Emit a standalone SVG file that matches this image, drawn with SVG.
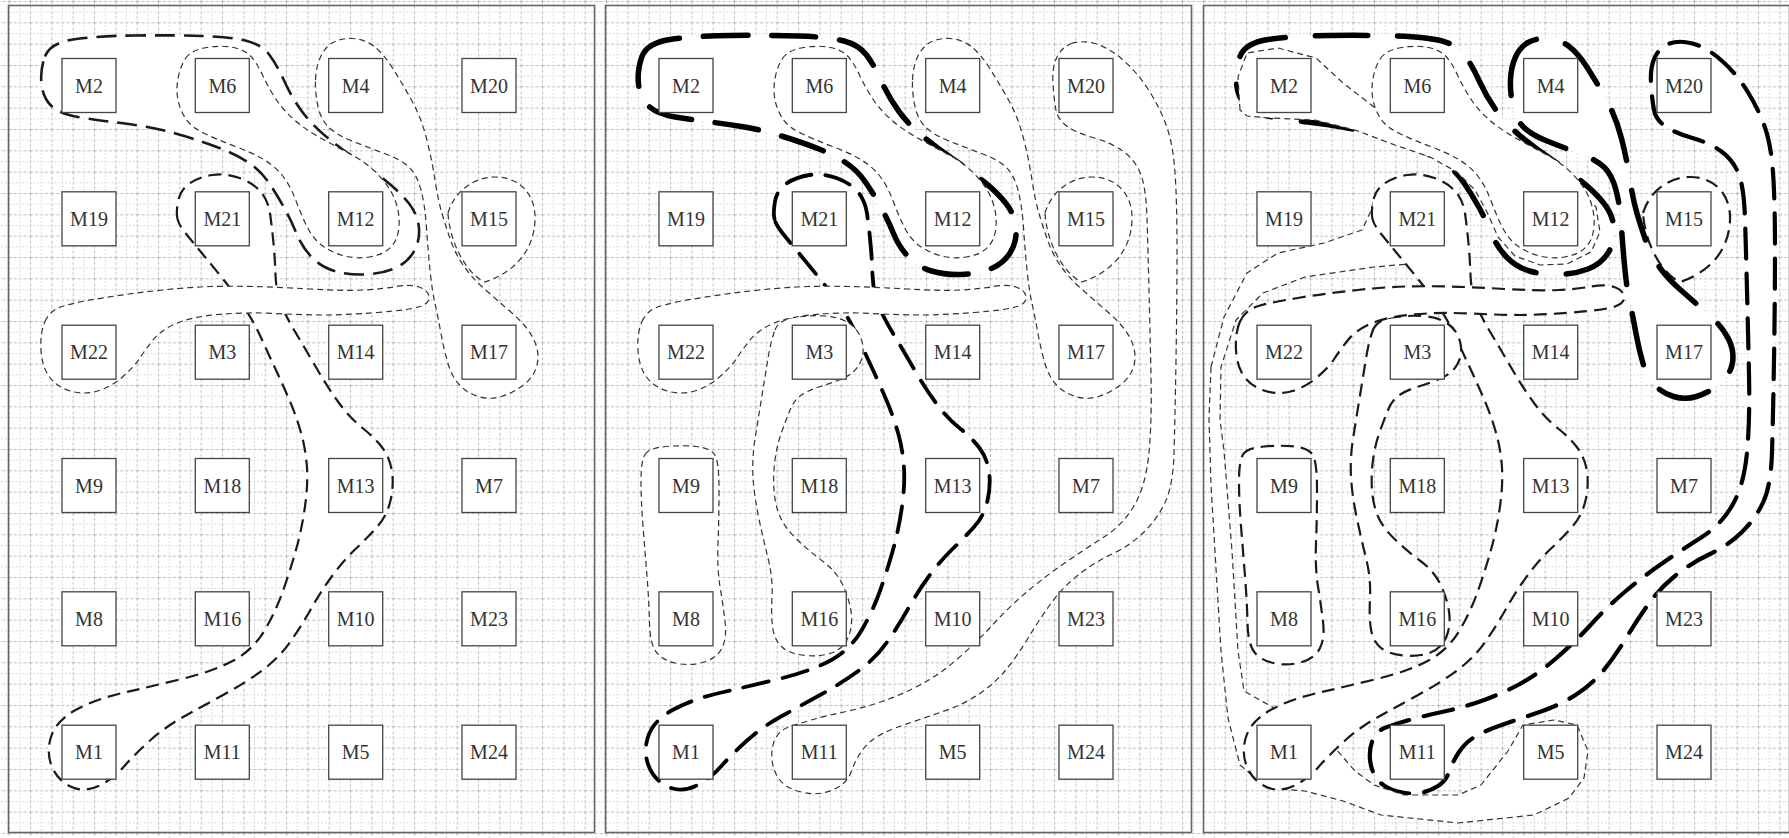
<svg xmlns="http://www.w3.org/2000/svg" xmlns:xlink="http://www.w3.org/1999/xlink" width="1789" height="838" viewBox="0 0 1789 838">
<style>
.node rect{fill:#fff;stroke:#444;stroke-width:1.3}
.node text{font-family:"Liberation Serif","Times New Roman",serif;font-size:20px;fill:#333;text-anchor:middle}
.frame{fill:none;stroke:#666;stroke-width:1.6}
.he{fill:#fff;stroke:#1a1a1a;stroke-linejoin:round}
.thin{stroke:#333;stroke-width:1.2;stroke-dasharray:6 4}
.p1a{stroke-width:2.6;stroke-dasharray:20 9}
.med{stroke-width:2.2;stroke-dasharray:13 7}
.thick{stroke:#000;stroke-width:3.8;stroke-dasharray:26 14;stroke-linecap:round}
.heavy2{stroke:#000;stroke-width:5.5;stroke-dasharray:44 24;stroke-linecap:round}
.heavy{stroke:#000;stroke-width:5.5;stroke-dasharray:52 30;stroke-linecap:round}
.f3{stroke:#000;stroke-width:4.2;stroke-dasharray:30 15;stroke-linecap:round}
</style>
<defs>
<pattern id="grid" width="21.333" height="21.333" x="8.7" y="1" patternUnits="userSpaceOnUse">
<path d="M0,0.5H21.333M0.5,0V21.333" fill="none" stroke="#bcbcbc" stroke-width="1" stroke-dasharray="3 2"/>
<path d="M0,11.17H21.333M11.17,0V21.333" fill="none" stroke="#cfcfcf" stroke-width="1" stroke-dasharray="1.5 2"/>
</pattern>
<path id="hA" d="M45,56.5 Q50,43 73,39.5 Q96,36 134,35.5 Q172,35 202,36 Q232,37 247,41 Q262,45 269.5,55 Q277,65 284.5,81.5 Q292,98 302,111.5 Q312,125 326,136.5 Q340,148 356,159 Q372,170 386,181 Q400,192 409,203.5 Q418,215 419,228.5 Q420,242 413,253 Q406,264 393,269 Q380,274 364,274.5 Q348,275 334.5,271 Q321,267 311.5,257 Q302,247 296.5,233.5 Q291,220 283.5,206.5 Q276,193 268,181.5 Q260,170 248.5,162.5 Q237,155 222,149 Q207,143 186,136.5 Q165,130 147.5,127 Q130,124 113,122 Q96,120 78,117 Q60,114 51.5,106 Q43,98 41.5,84 Q40,70 45,56.5 Z"/>
<path id="hB" d="M185.5,58.5 Q191,50 206.5,47.5 Q222,45 233.5,47.5 Q245,50 251,56.5 Q257,63 262.5,75 Q268,87 275.5,98.5 Q283,110 294.5,120 Q306,130 321.5,138.5 Q337,147 352,155 Q367,163 378.5,175 Q390,187 395,200 Q400,213 399,226.5 Q398,240 390.5,247.5 Q383,255 369.5,257 Q356,259 344.5,256 Q333,253 323.5,246.5 Q314,240 308,228.5 Q302,217 296.5,202 Q291,187 283.5,177 Q276,167 264.5,160 Q253,153 235.5,146.5 Q218,140 204.5,133.5 Q191,127 185.5,118.5 Q180,110 178,100 Q176,90 178,78.5 Q180,67 185.5,58.5 Z"/>
<path id="hC" d="M177.5,219 Q176,213 178,201.5 Q180,190 189.5,183.5 Q199,177 212.5,175 Q226,173 239.5,178 Q253,183 260.5,191.5 Q268,200 270,213.5 Q272,227 273.5,243.5 Q275,260 275.5,275 Q276,290 280.5,302.5 Q285,315 295.5,332.5 Q306,350 317,369 Q328,388 339,403 Q350,418 362.5,428 Q375,438 382.5,448 Q390,458 392,471.5 Q394,485 390.5,500.5 Q387,516 377,527 Q367,538 355.5,549 Q344,560 332.5,575.5 Q321,591 311.5,608 Q302,625 290.5,641.5 Q279,658 262,670.5 Q245,683 224,694.5 Q203,706 184,716.5 Q165,727 149.5,741 Q134,755 123.5,767 Q113,779 98.5,786 Q84,793 70.5,786.5 Q57,780 51.5,765.5 Q46,751 51.5,735.5 Q57,720 76.5,709.5 Q96,699 124.5,692.5 Q153,686 183.5,678.5 Q214,671 233.5,660.5 Q253,650 264.5,630.5 Q276,611 283.5,589.5 Q291,568 296.5,548 Q302,528 305,506.5 Q308,485 307,468 Q306,451 301.5,434.5 Q297,418 290,401.5 Q283,385 275.5,369 Q268,353 260.5,336.5 Q253,320 242.5,305 Q232,290 221,276.5 Q210,263 200.5,251.5 Q191,240 185,232.5 Q179,225 177.5,219 Z"/>
<path id="hD1" d="M45,321.5 Q50,310 63.5,306 Q77,302 105.5,297.5 Q134,293 162.5,290 Q191,287 210.5,286.5 Q230,286 253,286.5 Q276,287 310,289 Q344,291 363.5,290 Q383,289 396.5,286.5 Q410,284 419,287 Q428,290 429,296.5 Q430,303 420,306.5 Q410,310 377,312.5 Q344,315 325,315 Q306,315 275.5,313.5 Q245,312 218,314.5 Q191,317 176,323.5 Q161,330 153,340 Q145,350 139.5,358.5 Q134,367 122.5,377 Q111,387 97.5,391 Q84,395 70.5,391 Q57,387 49.5,377 Q42,367 41,350 Q40,333 45,321.5 Z"/>
<path id="hD2" d="M315.5,80 Q316,67 320.5,57 Q325,47 333,42.5 Q341,38 352.5,38.5 Q364,39 373.5,46 Q383,53 392.5,68 Q402,83 411.5,100 Q421,117 426.5,138.5 Q432,160 435,180 Q438,200 442,213.5 Q446,227 450.5,240 Q455,253 463,265 Q471,277 484,288.5 Q497,300 512.5,313.5 Q528,327 534,340 Q540,353 537,365 Q534,377 523.5,385 Q513,393 501.5,396.5 Q490,400 478.5,396.5 Q467,393 459.5,385 Q452,377 448,363.5 Q444,350 441,333.5 Q438,317 435,303.5 Q432,290 430,270 Q428,250 426.5,227.5 Q425,205 421,190 Q417,175 409.5,167.5 Q402,160 384.5,153.5 Q367,147 352,141 Q337,135 329,127.5 Q321,120 318,106.5 Q315,93 315.5,80 Z"/>
<path id="hM15" d="M448,213 C455,190 475,177 495,177 C520,177 536,195 535,220 C534,250 515,272 485,282 C468,275 450,245 448,213 Z"/>
<path id="hE" d="M178,330 Q182,320 197,317.5 Q212,315 227.5,316 Q243,317 252.5,323.5 Q262,330 265,341.5 Q268,353 263,363 Q258,373 246.5,378 Q235,383 223.5,386.5 Q212,390 204.5,395 Q197,400 193,410 Q189,420 184.5,432.5 Q180,445 178,460 Q176,475 177,490 Q178,505 183,516.5 Q188,528 200,539.5 Q212,551 225.5,561 Q239,571 245.5,584.5 Q252,598 254,611.5 Q256,625 251.5,636.5 Q247,648 235.5,652.5 Q224,657 208.5,655.5 Q193,654 185.5,647.5 Q178,641 176,629.5 Q174,618 175,598 Q176,578 171,558 Q166,538 161.5,516.5 Q157,495 156,476.5 Q155,458 158,439 Q161,420 164.5,398.5 Q168,377 171,358.5 Q174,340 178,330 Z"/>
<path id="hK" d="M48,454.5 Q52,448 69,446.5 Q86,445 99.5,446.5 Q113,448 117.5,454.5 Q122,461 122,489.5 Q122,518 121,543 Q120,568 123,586.5 Q126,605 128,621.5 Q130,638 125,648 Q120,658 107,662 Q94,666 80.5,663.5 Q67,661 60,653 Q53,645 52.5,623 Q52,601 50,576 Q48,551 46,526 Q44,501 44,481 Q44,461 48,454.5 Z"/>
<path id="hF" d="M474.5,43.5 Q484,40 497.5,43.5 Q511,47 526,60 Q541,73 552.5,91.5 Q564,110 570,127.5 Q576,145 578,172.5 Q580,200 580,250 Q580,300 579,360 Q578,420 577,452.5 Q576,485 568.5,501.5 Q561,518 547.5,531.5 Q534,545 515,554 Q496,563 480.5,575.5 Q465,588 453.5,604 Q442,620 430.5,639 Q419,658 407.5,671.5 Q396,685 380.5,695 Q365,705 346,711.5 Q327,718 308,724.5 Q289,731 279.5,737 Q270,743 264,752 Q258,761 254.5,771 Q251,781 243,786 Q235,791 225.5,793 Q216,795 202.5,791.5 Q189,788 182.5,779.5 Q176,771 175,759.5 Q174,748 178,739.5 Q182,731 189.5,728 Q197,725 212.5,720.5 Q228,716 247,712 Q266,708 285,701.5 Q304,695 323,685 Q342,675 361.5,658 Q381,641 396,624.5 Q411,608 428.5,593 Q446,578 467,563.5 Q488,549 507,537 Q526,525 537.5,505 Q549,485 552,452.5 Q555,420 554,375 Q553,330 552,290 Q551,250 550,218.5 Q549,187 543.5,173.5 Q538,160 526.5,151.5 Q515,143 497.5,138 Q480,133 470.5,126.5 Q461,120 459,110 Q457,100 456,83.5 Q455,67 460,57 Q465,47 474.5,43.5 Z"/>
<path id="hG" d="M16,367 L29,317 L52,273 L83,253 L129,243 L167,230 L175,213 L182,190 L209,182 L240,187 L259,207 L263,233 L255,253 L225,263 L179,267 L110,277 L68,293 L41,320 L26,367 L25,420 L29,451 L37,551 L43,651 L49,691 L79,708 L110,725 L140,748 L160,771 L179,785 L209,795 L263,795 L286,785 L313,751 L328,725 L359,720 L382,725 L393,751 L389,778 L374,798 L339,815 L263,823 L186,815 L148,801 L110,791 L72,788 L45,765 L33,718 L26,651 L22,585 L16,485 L14,418 Z"/>
<path id="hH" d="M45,110 L43,77 L52,53 L83,48 L121,58 L148,83 L179,107 L209,123 L244,140 L288,162 L339,172 L378,185 L401,207 L405,232 L396,252 L372,264 L345,265 L320,256 L303,237 L292,212 L280,190 L262,172 L235,157 L200,145 L160,130 L120,120 L75,118 L52,116 Z"/>
</defs>
<rect width="1789" height="838" fill="#fff"/>
<rect width="1789" height="838" fill="url(#grid)"/>
<g id="frames">
<rect class="frame" x="8.5" y="5.5" width="586" height="827"/>
<rect class="frame" x="605.5" y="5.5" width="586" height="827"/>
<rect class="frame" x="1203.5" y="5.5" width="586" height="827"/>
</g>
<g id="hyperedges">
<g id="edges-panel1">
<use href="#hA" class="he p1a"/>
<use href="#hB" class="he thin"/>
<use href="#hC" class="he med"/>
<use href="#hM15" class="he thin"/>
<use href="#hD2" class="he thin"/>
<use href="#hD1" class="he thin"/>
</g>
<g id="edges-panel2" transform="translate(597,0)">
<use href="#hF" class="he thin"/>
<use href="#hA" class="he heavy2"/>
<use href="#hB" class="he thin"/>
<use href="#hC" class="he thick"/>
<use href="#hE" class="he thin"/>
<use href="#hK" class="he thin"/>
<use href="#hM15" class="he thin"/>
<use href="#hD2" class="he thin"/>
<use href="#hD1" class="he thin"/>
</g>
<g id="edges-panel3" transform="translate(1195,0)">
<use href="#hF" class="he f3"/>
<use href="#hA" class="he heavy"/>
<use href="#hH" class="he thin"/>
<use href="#hB" class="he thin"/>
<use href="#hG" class="he thin"/>
<use href="#hC" class="he med"/>
<use href="#hE" class="he med"/>
<use href="#hK" class="he med"/>
<use href="#hM15" class="he med"/>
<use href="#hD2" class="he heavy"/>
<use href="#hD1" class="he med"/>
</g>
</g>
<g id="nodes-panel1" class="node">
<g id="p1-M2" transform="translate(89,85.5)"><rect x="-27" y="-27" width="54" height="54"/><text y="7">M2</text></g>
<g id="p1-M6" transform="translate(222.3,85.5)"><rect x="-27" y="-27" width="54" height="54"/><text y="7">M6</text></g>
<g id="p1-M4" transform="translate(355.7,85.5)"><rect x="-27" y="-27" width="54" height="54"/><text y="7">M4</text></g>
<g id="p1-M20" transform="translate(489,85.5)"><rect x="-27" y="-27" width="54" height="54"/><text y="7">M20</text></g>
<g id="p1-M19" transform="translate(89,218.8)"><rect x="-27" y="-27" width="54" height="54"/><text y="7">M19</text></g>
<g id="p1-M21" transform="translate(222.3,218.8)"><rect x="-27" y="-27" width="54" height="54"/><text y="7">M21</text></g>
<g id="p1-M12" transform="translate(355.7,218.8)"><rect x="-27" y="-27" width="54" height="54"/><text y="7">M12</text></g>
<g id="p1-M15" transform="translate(489,218.8)"><rect x="-27" y="-27" width="54" height="54"/><text y="7">M15</text></g>
<g id="p1-M22" transform="translate(89,352.2)"><rect x="-27" y="-27" width="54" height="54"/><text y="7">M22</text></g>
<g id="p1-M3" transform="translate(222.3,352.2)"><rect x="-27" y="-27" width="54" height="54"/><text y="7">M3</text></g>
<g id="p1-M14" transform="translate(355.7,352.2)"><rect x="-27" y="-27" width="54" height="54"/><text y="7">M14</text></g>
<g id="p1-M17" transform="translate(489,352.2)"><rect x="-27" y="-27" width="54" height="54"/><text y="7">M17</text></g>
<g id="p1-M9" transform="translate(89,485.5)"><rect x="-27" y="-27" width="54" height="54"/><text y="7">M9</text></g>
<g id="p1-M18" transform="translate(222.3,485.5)"><rect x="-27" y="-27" width="54" height="54"/><text y="7">M18</text></g>
<g id="p1-M13" transform="translate(355.7,485.5)"><rect x="-27" y="-27" width="54" height="54"/><text y="7">M13</text></g>
<g id="p1-M7" transform="translate(489,485.5)"><rect x="-27" y="-27" width="54" height="54"/><text y="7">M7</text></g>
<g id="p1-M8" transform="translate(89,618.8)"><rect x="-27" y="-27" width="54" height="54"/><text y="7">M8</text></g>
<g id="p1-M16" transform="translate(222.3,618.8)"><rect x="-27" y="-27" width="54" height="54"/><text y="7">M16</text></g>
<g id="p1-M10" transform="translate(355.7,618.8)"><rect x="-27" y="-27" width="54" height="54"/><text y="7">M10</text></g>
<g id="p1-M23" transform="translate(489,618.8)"><rect x="-27" y="-27" width="54" height="54"/><text y="7">M23</text></g>
<g id="p1-M1" transform="translate(89,752.2)"><rect x="-27" y="-27" width="54" height="54"/><text y="7">M1</text></g>
<g id="p1-M11" transform="translate(222.3,752.2)"><rect x="-27" y="-27" width="54" height="54"/><text y="7">M11</text></g>
<g id="p1-M5" transform="translate(355.7,752.2)"><rect x="-27" y="-27" width="54" height="54"/><text y="7">M5</text></g>
<g id="p1-M24" transform="translate(489,752.2)"><rect x="-27" y="-27" width="54" height="54"/><text y="7">M24</text></g>
</g>
<g id="nodes-panel2" class="node" transform="translate(597,0)">
<g id="p2-M2" transform="translate(89,85.5)"><rect x="-27" y="-27" width="54" height="54"/><text y="7">M2</text></g>
<g id="p2-M6" transform="translate(222.3,85.5)"><rect x="-27" y="-27" width="54" height="54"/><text y="7">M6</text></g>
<g id="p2-M4" transform="translate(355.7,85.5)"><rect x="-27" y="-27" width="54" height="54"/><text y="7">M4</text></g>
<g id="p2-M20" transform="translate(489,85.5)"><rect x="-27" y="-27" width="54" height="54"/><text y="7">M20</text></g>
<g id="p2-M19" transform="translate(89,218.8)"><rect x="-27" y="-27" width="54" height="54"/><text y="7">M19</text></g>
<g id="p2-M21" transform="translate(222.3,218.8)"><rect x="-27" y="-27" width="54" height="54"/><text y="7">M21</text></g>
<g id="p2-M12" transform="translate(355.7,218.8)"><rect x="-27" y="-27" width="54" height="54"/><text y="7">M12</text></g>
<g id="p2-M15" transform="translate(489,218.8)"><rect x="-27" y="-27" width="54" height="54"/><text y="7">M15</text></g>
<g id="p2-M22" transform="translate(89,352.2)"><rect x="-27" y="-27" width="54" height="54"/><text y="7">M22</text></g>
<g id="p2-M3" transform="translate(222.3,352.2)"><rect x="-27" y="-27" width="54" height="54"/><text y="7">M3</text></g>
<g id="p2-M14" transform="translate(355.7,352.2)"><rect x="-27" y="-27" width="54" height="54"/><text y="7">M14</text></g>
<g id="p2-M17" transform="translate(489,352.2)"><rect x="-27" y="-27" width="54" height="54"/><text y="7">M17</text></g>
<g id="p2-M9" transform="translate(89,485.5)"><rect x="-27" y="-27" width="54" height="54"/><text y="7">M9</text></g>
<g id="p2-M18" transform="translate(222.3,485.5)"><rect x="-27" y="-27" width="54" height="54"/><text y="7">M18</text></g>
<g id="p2-M13" transform="translate(355.7,485.5)"><rect x="-27" y="-27" width="54" height="54"/><text y="7">M13</text></g>
<g id="p2-M7" transform="translate(489,485.5)"><rect x="-27" y="-27" width="54" height="54"/><text y="7">M7</text></g>
<g id="p2-M8" transform="translate(89,618.8)"><rect x="-27" y="-27" width="54" height="54"/><text y="7">M8</text></g>
<g id="p2-M16" transform="translate(222.3,618.8)"><rect x="-27" y="-27" width="54" height="54"/><text y="7">M16</text></g>
<g id="p2-M10" transform="translate(355.7,618.8)"><rect x="-27" y="-27" width="54" height="54"/><text y="7">M10</text></g>
<g id="p2-M23" transform="translate(489,618.8)"><rect x="-27" y="-27" width="54" height="54"/><text y="7">M23</text></g>
<g id="p2-M1" transform="translate(89,752.2)"><rect x="-27" y="-27" width="54" height="54"/><text y="7">M1</text></g>
<g id="p2-M11" transform="translate(222.3,752.2)"><rect x="-27" y="-27" width="54" height="54"/><text y="7">M11</text></g>
<g id="p2-M5" transform="translate(355.7,752.2)"><rect x="-27" y="-27" width="54" height="54"/><text y="7">M5</text></g>
<g id="p2-M24" transform="translate(489,752.2)"><rect x="-27" y="-27" width="54" height="54"/><text y="7">M24</text></g>
</g>
<g id="nodes-panel3" class="node" transform="translate(1195,0)">
<g id="p3-M2" transform="translate(89,85.5)"><rect x="-27" y="-27" width="54" height="54"/><text y="7">M2</text></g>
<g id="p3-M6" transform="translate(222.3,85.5)"><rect x="-27" y="-27" width="54" height="54"/><text y="7">M6</text></g>
<g id="p3-M4" transform="translate(355.7,85.5)"><rect x="-27" y="-27" width="54" height="54"/><text y="7">M4</text></g>
<g id="p3-M20" transform="translate(489,85.5)"><rect x="-27" y="-27" width="54" height="54"/><text y="7">M20</text></g>
<g id="p3-M19" transform="translate(89,218.8)"><rect x="-27" y="-27" width="54" height="54"/><text y="7">M19</text></g>
<g id="p3-M21" transform="translate(222.3,218.8)"><rect x="-27" y="-27" width="54" height="54"/><text y="7">M21</text></g>
<g id="p3-M12" transform="translate(355.7,218.8)"><rect x="-27" y="-27" width="54" height="54"/><text y="7">M12</text></g>
<g id="p3-M15" transform="translate(489,218.8)"><rect x="-27" y="-27" width="54" height="54"/><text y="7">M15</text></g>
<g id="p3-M22" transform="translate(89,352.2)"><rect x="-27" y="-27" width="54" height="54"/><text y="7">M22</text></g>
<g id="p3-M3" transform="translate(222.3,352.2)"><rect x="-27" y="-27" width="54" height="54"/><text y="7">M3</text></g>
<g id="p3-M14" transform="translate(355.7,352.2)"><rect x="-27" y="-27" width="54" height="54"/><text y="7">M14</text></g>
<g id="p3-M17" transform="translate(489,352.2)"><rect x="-27" y="-27" width="54" height="54"/><text y="7">M17</text></g>
<g id="p3-M9" transform="translate(89,485.5)"><rect x="-27" y="-27" width="54" height="54"/><text y="7">M9</text></g>
<g id="p3-M18" transform="translate(222.3,485.5)"><rect x="-27" y="-27" width="54" height="54"/><text y="7">M18</text></g>
<g id="p3-M13" transform="translate(355.7,485.5)"><rect x="-27" y="-27" width="54" height="54"/><text y="7">M13</text></g>
<g id="p3-M7" transform="translate(489,485.5)"><rect x="-27" y="-27" width="54" height="54"/><text y="7">M7</text></g>
<g id="p3-M8" transform="translate(89,618.8)"><rect x="-27" y="-27" width="54" height="54"/><text y="7">M8</text></g>
<g id="p3-M16" transform="translate(222.3,618.8)"><rect x="-27" y="-27" width="54" height="54"/><text y="7">M16</text></g>
<g id="p3-M10" transform="translate(355.7,618.8)"><rect x="-27" y="-27" width="54" height="54"/><text y="7">M10</text></g>
<g id="p3-M23" transform="translate(489,618.8)"><rect x="-27" y="-27" width="54" height="54"/><text y="7">M23</text></g>
<g id="p3-M1" transform="translate(89,752.2)"><rect x="-27" y="-27" width="54" height="54"/><text y="7">M1</text></g>
<g id="p3-M11" transform="translate(222.3,752.2)"><rect x="-27" y="-27" width="54" height="54"/><text y="7">M11</text></g>
<g id="p3-M5" transform="translate(355.7,752.2)"><rect x="-27" y="-27" width="54" height="54"/><text y="7">M5</text></g>
<g id="p3-M24" transform="translate(489,752.2)"><rect x="-27" y="-27" width="54" height="54"/><text y="7">M24</text></g>
</g>
</svg>
